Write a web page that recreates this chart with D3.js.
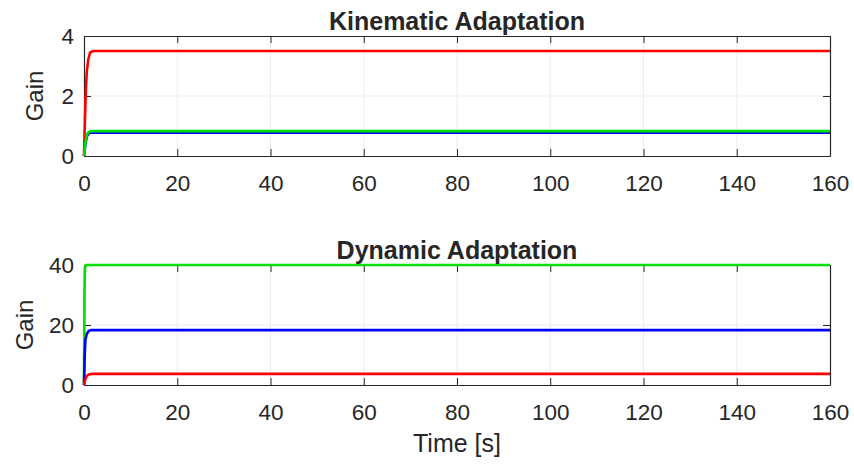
<!DOCTYPE html>
<html>
<head>
<meta charset="utf-8">
<script src="https://cdn.jsdelivr.net/npm/d3@7"></script>
<style>
  html, body { margin: 0; padding: 0; background: #fff; }
  svg { display: block; }
  text { font-family: "Liberation Sans", Arial, Helvetica, sans-serif; fill: #262626; }
</style>
</head>
<body>
<svg id="chart" width="854" height="464"></svg>
<script>
// Time samples (s) and gain traces for each adaptation panel
const kinTime  = [0, 0.2, 0.4, 0.6, 0.9, 1.3, 2, 160];
const kinRed   = [0, 1.2, 2.2, 2.8, 3.2, 3.45, 3.5, 3.5];
const kinGreenTime = [0, 0.3, 0.6, 1, 1.5, 160];
const kinGreen = [0, 0.45, 0.7, 0.8, 0.83, 0.83];
const kinBlue  = [0, 0.4, 0.65, 0.75, 0.78, 0.78];

const dynGreenTime = [0, 0.1, 0.2, 0.4, 160];
const dynGreen = [0, 30, 39, 40, 40];
const dynBlueTime = [0, 0.15, 0.3, 0.6, 1, 1.6, 160];
const dynBlue  = [0, 10, 15, 17, 18, 18.3, 18.3];
const dynRedTime = [0, 0.3, 0.6, 1, 1.6, 160];
const dynRed   = [0, 2, 3, 3.5, 3.7, 3.7];

const xTicks = [0, 20, 40, 60, 80, 100, 120, 140, 160];
const kinYTicks = [0, 2, 4];
const dynYTicks = [0, 20, 40];

const svg = d3.select("#chart");
const left = 84, right = 830;
const x = d3.scaleLinear().domain([0, 160]).range([left, right]);
const fmt = d3.format("d");

function panel(cfg) {
  const y = d3.scaleLinear().domain(cfg.yDomain).range([cfg.bottom, cfg.top]);
  const g = svg.append("g");

  // grid
  g.append("g").selectAll("line").data(xTicks.slice(1, -1)).join("line")
    .attr("x1", d => x(d)).attr("x2", d => x(d))
    .attr("y1", cfg.top).attr("y2", cfg.bottom)
    .attr("stroke", "#ececec").attr("stroke-width", 1);
  g.append("g").selectAll("line").data(cfg.yTicks.slice(1, -1)).join("line")
    .attr("y1", d => y(d)).attr("y2", d => y(d))
    .attr("x1", left).attr("x2", right)
    .attr("stroke", "#ececec").attr("stroke-width", 1);

  // axes (box with inward ticks)
  const xa = g.append("g").attr("transform", `translate(0,${cfg.bottom})`)
    .call(d3.axisBottom(x).tickValues(xTicks).tickFormat(fmt).tickSize(-7).tickPadding(19).tickSizeOuter(0));
  const xt = g.append("g").attr("transform", `translate(0,${cfg.top})`)
    .call(d3.axisTop(x).tickValues(xTicks).tickSize(-7).tickFormat("").tickSizeOuter(0));
  const ya = g.append("g").attr("transform", `translate(${left},0)`)
    .call(d3.axisLeft(y).tickValues(cfg.yTicks).tickFormat(fmt).tickSize(-7).tickPadding(10).tickSizeOuter(0));
  const yr = g.append("g").attr("transform", `translate(${right},0)`)
    .call(d3.axisRight(y).tickValues(cfg.yTicks).tickSize(-7).tickFormat("").tickSizeOuter(0));
  [xa, xt, ya, yr].forEach(a => {
    a.select(".domain").attr("stroke", "#262626").attr("stroke-width", 1.2);
    a.selectAll(".tick line").attr("stroke", "#262626");
    a.selectAll(".tick text").style("font-size", "22.5px").attr("fill", "#262626");
  });

  const line = d3.line().x(d => x(d[0])).y(d => y(d[1]));
  cfg.series.forEach(s => {
    g.append("path")
      .datum(d3.zip(s.t, s.v))
      .attr("d", line)
      .attr("fill", "none")
      .attr("stroke", s.color)
      .attr("stroke-width", 2.6)
      .attr("stroke-linejoin", "round");
  });

  // title
  g.append("text").attr("x", (left + right) / 2).attr("y", cfg.titleY)
    .attr("text-anchor", "middle").style("font-size", "25px").style("font-weight", "bold")
    .attr("fill", "#000").text(cfg.title);

  // y label
  g.append("text")
    .attr("transform", `translate(${cfg.ylabelX},${(cfg.top + cfg.bottom) / 2}) rotate(-90)`)
    .attr("text-anchor", "middle").style("font-size", "24px").text("Gain");
}

panel({
  top: 36, bottom: 156, yDomain: [0, 4], yTicks: kinYTicks,
  title: "Kinematic Adaptation", titleY: 30, ylabelX: 43,
  series: [
    { t: kinTime, v: kinRed, color: "#ff0000" },
    { t: kinGreenTime, v: kinBlue, color: "#0000ff" },
    { t: kinGreenTime, v: kinGreen, color: "#00e000" }
  ]
});

panel({
  top: 265, bottom: 385, yDomain: [0, 40], yTicks: dynYTicks,
  title: "Dynamic Adaptation", titleY: 259, ylabelX: 33,
  series: [
    { t: dynGreenTime, v: dynGreen, color: "#00e000" },
    { t: dynBlueTime, v: dynBlue, color: "#0000ff" },
    { t: dynRedTime, v: dynRed, color: "#ff0000" }
  ]
});

svg.append("text").attr("x", (left + right) / 2).attr("y", 452)
  .attr("text-anchor", "middle").style("font-size", "25px").text("Time [s]");
</script>
</body>
</html>
